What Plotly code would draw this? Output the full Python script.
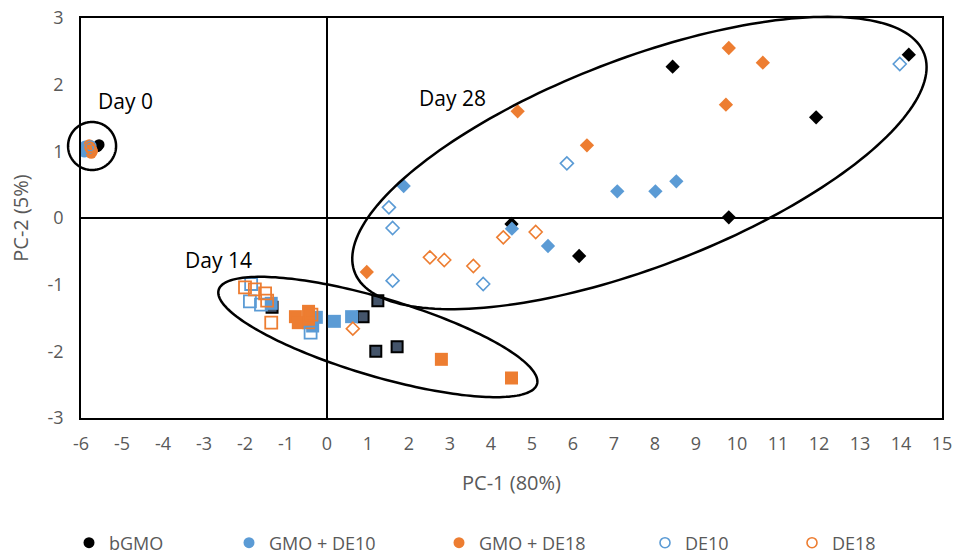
import numpy as np
import plotly.graph_objects as go

# ---------------- data (PC-1, PC-2 scores) ----------------
series_names = ["bGMO", "GMO + DE10", "GMO + DE18", "DE10", "DE18"]

# Day 0 (circles)
d0_bgmo_x = [-5.60, -5.56]
d0_bgmo_y = [1.07, 1.10]
d0_gmo10_x = [-5.90, -5.87, -5.92]
d0_gmo10_y = [1.08, 1.02, 0.99]
d0_gmo18_x = [-5.78, -5.72, -5.80, -5.75]
d0_gmo18_y = [1.05, 1.00, 1.10, 0.97]
d0_de10_x = [-5.82, -5.76]
d0_de10_y = [1.04, 1.08]
d0_de18_x = [-5.74, -5.78]
d0_de18_y = [1.02, 1.06]

# Day 14 (squares)
d14_bgmo_x = [-1.34, 0.88, 1.24, 1.19, 1.71]
d14_bgmo_y = [-1.34, -1.48, -1.24, -2.00, -1.93]
d14_gmo10_x = [-1.36, -0.26, 0.18, 0.60, -0.35]
d14_gmo10_y = [-1.28, -1.49, -1.55, -1.48, -1.62]
d14_gmo18_x = [-0.77, -0.45, -0.70, -0.45, 2.79, 4.50]
d14_gmo18_y = [-1.48, -1.40, -1.57, -1.57, -2.12, -2.40]
d14_de10_x = [-1.85, -1.88, -1.61, -0.40]
d14_de10_y = [-0.99, -1.25, -1.30, -1.72]
d14_de18_x = [-2.00, -1.76, -1.51, -1.46, -1.36, -0.38]
d14_de18_y = [-1.04, -1.07, -1.13, -1.24, -1.57, -1.45]

# Day 28 (diamonds)
d28_bgmo_x = [8.43, 14.19, 11.93, 9.80, 4.50, 6.15]
d28_bgmo_y = [2.27, 2.45, 1.51, 0.01, -0.09, -0.57]
d28_gmo10_x = [7.08, 8.01, 8.52, 1.87, 4.51, 5.39]
d28_gmo10_y = [0.40, 0.40, 0.55, 0.48, -0.16, -0.42]
d28_gmo18_x = [9.80, 10.63, 9.73, 6.34, 4.65, 0.97]
d28_gmo18_y = [2.55, 2.33, 1.70, 1.09, 1.60, -0.81]
d28_de10_x = [13.97, 5.85, 1.51, 1.60, 1.60, 3.81]
d28_de10_y = [2.31, 0.82, 0.16, -0.15, -0.94, -0.99]
d28_de18_x = [5.09, 4.30, 2.51, 2.86, 3.57, 0.63]
d28_de18_y = [-0.21, -0.29, -0.59, -0.63, -0.72, -1.66]

x_ticks = list(range(-6, 16))
y_ticks = list(range(-3, 4))

# ---------------- styling ----------------
BLUE = "#5B9BD5"
ORANGE = "#ED7D31"
DARK = "#44546A"
GRAY = "#595959"
FONT = "Open Sans"

W, H = 954, 556
ML, MR, MT, MB = 81, 12, 18, 138
PW, PH = W - ML - MR, H - MT - MB
XMIN, XMAX = x_ticks[0], x_ticks[-1]
YMIN, YMAX = y_ticks[0], y_ticks[-1]
PX_X = PW / (XMAX - XMIN)
PX_Y = PH / (YMAX - YMIN)

fig = go.Figure()

def add(x, y, symbol, color, size, line_color, line_width, legend=None, name=None):
    fig.add_trace(go.Scatter(
        x=x, y=y, mode="markers",
        name=name if name else "",
        showlegend=legend is not None,
        legend=legend if legend else "legend",
        marker=dict(symbol=symbol, color=color, size=size,
                    line=dict(color=line_color, width=line_width)),
        hoverinfo="x+y",
    ))

# Day 0
add(d0_bgmo_x, d0_bgmo_y, "circle", "black", 11, "black", 0, "legend", series_names[0])
add(d0_gmo10_x, d0_gmo10_y, "circle", BLUE, 11, BLUE, 0, "legend2", series_names[1])
add(d0_gmo18_x, d0_gmo18_y, "circle", ORANGE, 11, ORANGE, 0, "legend3", series_names[2])
add(d0_de10_x, d0_de10_y, "circle-open", BLUE, 10, BLUE, 1.6, "legend4", series_names[3])
add(d0_de18_x, d0_de18_y, "circle-open", ORANGE, 10, ORANGE, 1.6, "legend5", series_names[4])

# Day 14
add(d14_bgmo_x, d14_bgmo_y, "square", DARK, 11, "black", 2)
add(d14_gmo10_x, d14_gmo10_y, "square", BLUE, 13, BLUE, 0)
add(d14_gmo18_x, d14_gmo18_y, "square", ORANGE, 13, ORANGE, 0)
add(d14_de10_x, d14_de10_y, "square-open", BLUE, 12, BLUE, 1.8)
add(d14_de18_x, d14_de18_y, "square-open", ORANGE, 12, ORANGE, 1.8)

# Day 28
add(d28_de10_x, d28_de10_y, "diamond-open", BLUE, 10, BLUE, 1.6)
add(d28_de18_x, d28_de18_y, "diamond-open", ORANGE, 10, ORANGE, 1.6)
add(d28_bgmo_x, d28_bgmo_y, "diamond", "black", 11, "black", 0)
add(d28_gmo10_x, d28_gmo10_y, "diamond", BLUE, 11, BLUE, 0)
add(d28_gmo18_x, d28_gmo18_y, "diamond", ORANGE, 11, ORANGE, 0)

# ---------------- group ellipses (drawn in paper space so they are not clipped) ----------------
def ellipse_path(cx, cy, a_px, b_px, angle_deg, n=200):
    t = np.linspace(0, 2 * np.pi, n)
    th = np.radians(angle_deg)
    u = a_px * np.cos(t) * np.cos(th) - b_px * np.sin(t) * np.sin(th)
    v = a_px * np.cos(t) * np.sin(th) + b_px * np.sin(t) * np.cos(th)
    xs = (cx - XMIN + u / PX_X) / (XMAX - XMIN)
    ys = (cy - YMIN + v / PX_Y) / (YMAX - YMIN)
    return "M " + " L ".join(f"{x:.5f},{y:.5f}" for x, y in zip(xs, ys)) + " Z"

ellipses = [
    (-5.73, 1.08, 24, 24, 0),        # Day 0
    (1.24, -1.785, 166, 39, -16.5),  # Day 14
    (7.62, 0.825, 305, 104, 21),     # Day 28
]
for cx, cy, a, b, ang in ellipses:
    fig.add_shape(type="path", path=ellipse_path(cx, cy, a, b, ang),
                  xref="paper", yref="paper", line=dict(color="black", width=2.5),
                  fillcolor="rgba(0,0,0,0)", layer="above")

labels = [("Day 0", -4.92, 1.76), ("Day 14", -2.65, -0.63), ("Day 28", 3.07, 1.80)]
for txt, x, y in labels:
    fig.add_annotation(x=x, y=y, text=txt, showarrow=False,
                       font=dict(family=FONT, size=21, color="black"))

# ---------------- legends ----------------
legend_px = [92, 252, 462, 668, 815]   # symbol centres on the page
leg_y = (PH - (543 - MT)) / PH
legend_common = dict(orientation="h", yanchor="middle", y=leg_y, xanchor="left",
                     font=dict(family=FONT, size=18, color=GRAY),
                     bgcolor="rgba(0,0,0,0)", borderwidth=0)
legend_layout = {}
for i, px in enumerate(legend_px):
    key = "legend" if i == 0 else f"legend{i+1}"
    legend_layout[key] = dict(legend_common, x=(px - 23 - ML) / PW)

fig.update_layout(
    width=W, height=H,
    margin=dict(l=ML, r=MR, t=MT, b=MB, autoexpand=False),
    paper_bgcolor="white", plot_bgcolor="white",
    font=dict(family=FONT, color=GRAY),
    **legend_layout,
)
fig.update_xaxes(
    range=[XMIN, XMAX], tickvals=x_ticks, ticktext=[str(v) for v in x_ticks],
    showgrid=False, showline=True, mirror=True, linecolor="black", linewidth=1.5,
    zeroline=True, zerolinecolor="black", zerolinewidth=1.5,
    ticks="", ticklabelstandoff=9, ticklabeloverflow="allow",
    tickfont=dict(family=FONT, size=18, color=GRAY),
    title=dict(text="PC-1 (80%)", font=dict(family=FONT, size=20, color=GRAY), standoff=22),
    fixedrange=True,
)
fig.update_yaxes(
    range=[YMIN, YMAX], tickvals=y_ticks, ticktext=[str(v) for v in y_ticks],
    showgrid=False, showline=True, mirror=True, linecolor="black", linewidth=1.5,
    zeroline=True, zerolinecolor="black", zerolinewidth=1.5,
    ticks="", ticklabelstandoff=12, ticklabeloverflow="allow",
    tickfont=dict(family=FONT, size=18, color=GRAY),
    title=dict(text="PC-2 (5%)", font=dict(family=FONT, size=20, color=GRAY), standoff=14),
    fixedrange=True,
)

fig.write_html("out.html", config={"displayModeBar": False},
               post_script="document.body.style.margin='0px';")
